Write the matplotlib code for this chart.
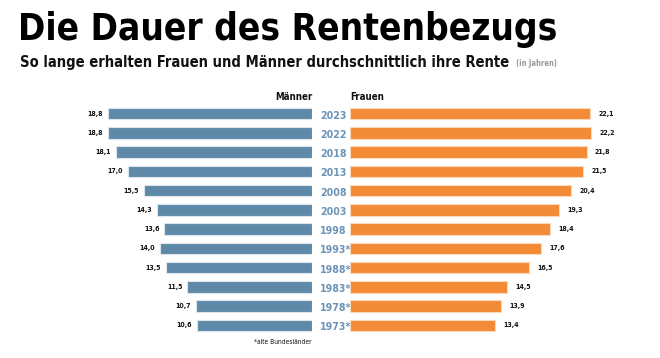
import matplotlib
matplotlib.use("Agg")
import matplotlib.pyplot as plt

years = ["2023", "2022", "2018", "2013", "2008", "2003", "1998", "1993*", "1988*", "1983*", "1978*", "1973*"]
men = [18.8, 18.8, 18.1, 17.0, 15.5, 14.3, 13.6, 14.0, 13.5, 11.5, 10.7, 10.6]
women = [22.1, 22.2, 21.8, 21.5, 20.4, 19.3, 18.4, 17.6, 16.5, 14.5, 13.9, 13.4]

plt.rcParams['font.family'] = ["DejaVu Sans"]
plt.rcParams['font.stretch'] = "condensed"
C = dict(family="DejaVu Sans", stretch="condensed")

MEN_C = "#5f89a8"
WOM_C = "#f38a36"
YEAR_C = "#6b93b8"

W, H = 660, 358
fig = plt.figure(figsize=(W / 100, H / 100), dpi=100)

def fx(px):
    return px / W

def fy(py):
    return 1 - py / H

scale = 10.85  # px per year
top, bot = 104, 335
axL = fig.add_axes([fx(60), fy(bot), fx(312 - 60), fy(top) - fy(bot)])
axR = fig.add_axes([fx(350), fy(bot), fx(640 - 350), fy(top) - fy(bot)])
axL.set_xlim((312 - 60) / scale, 0)
axR.set_xlim(0, (640 - 350) / scale)
n = len(years)
for ax in (axL, axR):
    ax.set_ylim(n - 0.5, -0.5)
    ax.axis("off")

pos = list(range(n))
axL.barh(pos, men, height=0.6, color=MEN_C, edgecolor="#dbe5ee", linewidth=0.8)
axR.barh(pos, women, height=0.6, color=WOM_C, edgecolor="#fbd9bd", linewidth=0.8)

for i in pos:
    axL.annotate(f"{men[i]:.1f}".replace(".", ","), (men[i], i), xytext=(-3.5, 0),
                 textcoords="offset points", ha="right", va="center",
                 fontsize=5, fontweight="bold", color="#111111", **C)
    axR.annotate(f"{women[i]:.1f}".replace(".", ","), (women[i], i), xytext=(6, 0),
                 textcoords="offset points", ha="left", va="center",
                 fontsize=5, fontweight="bold", color="#111111", **C)
    fig.text(fx(320), fy(top + (i + 0.5) * (bot - top) / n + 2), years[i], ha="left", va="center",
             fontsize=7.6, fontweight="bold", color=YEAR_C, **C)

fig.text(fx(313), fy(97), "Männer", ha="right", va="center", fontsize=7, fontweight="bold", color="#111111", **C)
fig.text(fx(350), fy(97), "Frauen", ha="left", va="center", fontsize=7, fontweight="bold", color="#111111", **C)

fig.text(fx(18), fy(30), "Die Dauer des Rentenbezugs", ha="left", va="center",
         fontsize=26.5, fontweight="bold", color="#000000", **C)
fig.text(fx(20), fy(63), "So lange erhalten Frauen und Männer durchschnittlich ihre Rente",
         ha="left", va="center", fontsize=10.5, fontweight="bold", color="#111111", **C)
fig.text(fx(516), fy(64), "(in Jahren)", ha="left", va="center", fontsize=5.5,
         fontweight="bold", color="#9a9a9a", **C)

fig.text(fx(312), fy(342), "*alte Bundesländer", ha="right", va="center", fontsize=4.8, color="#111111", **C)

fig.savefig("out.png", dpi=100, facecolor="white")
